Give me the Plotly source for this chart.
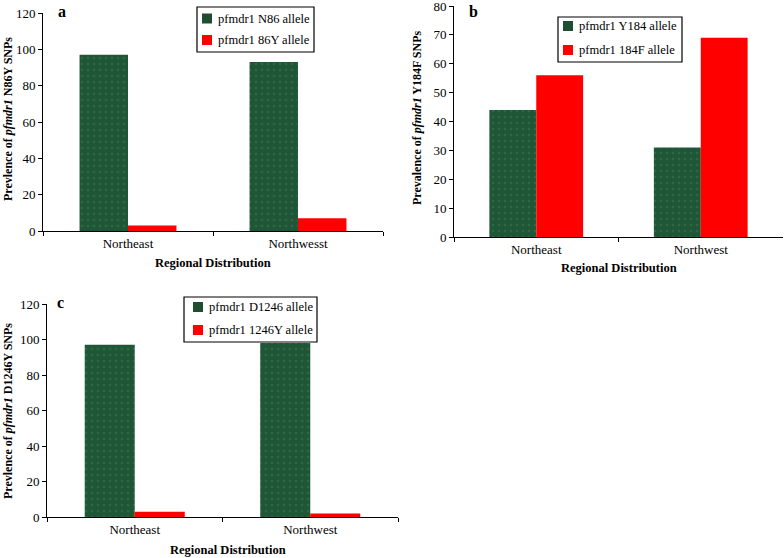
import plotly.graph_objects as go

W, H = 784, 558

regions_a = ["Northeast", "Northwesst"]
regions_b = ["Northeast", "Northwest"]
regions_c = ["Northeast", "Northwest"]

a_wild = [97, 93]
a_mut = [3, 7]
b_wild = [44, 31]
b_mut = [56, 69]
c_wild = [97, 98]
c_mut = [3, 2]

names_a = ["pfmdr1 N86 allele", "pfmdr1 86Y allele"]
names_b = ["pfmdr1 Y184 allele", "pfmdr1 184F allele"]
names_c = ["pfmdr1 D1246 allele", "pfmdr1 1246Y allele"]

ytitles = ["Prevlence of <i>pfmdr1</i> N86Y SNPs",
           "Prevalence of <i>pfmdr1</i> Y184F SNPs",
           "Prevlence of <i>pfmdr1</i> D1246Y SNPs"]

GREEN = "#1f5636"
RED = "#ff0000"
SERIF = "Liberation Serif, Times New Roman, serif"


def px_x(x):
    return x / W


def px_y(y):
    return 1 - y / H


# panel boxes in window pixels: (x0, x1, ytop, ybottom)
boxes = [(43, 383, 13, 231), (454, 783, 6, 237), (47, 398, 304, 517)]

fig = go.Figure()

panels = [
    (regions_a, a_wild, a_mut, names_a, ""),
    (regions_b, b_wild, b_mut, names_b, "2"),
    (regions_c, c_wild, c_mut, names_c, "3"),
]

for cats, wild, mut, names, sfx in panels:
    fig.add_trace(go.Bar(
        x=cats, y=wild, name=names[0], showlegend=False,
        xaxis="x" + sfx, yaxis="y" + sfx,
        marker=dict(color=GREEN, line=dict(width=0),
                    pattern=dict(shape=".", fgcolor="#3a7a55", bgcolor=GREEN,
                                 size=6, solidity=0.15)),
    ))
    fig.add_trace(go.Bar(
        x=cats, y=mut, name=names[1], showlegend=False,
        xaxis="x" + sfx, yaxis="y" + sfx,
        marker=dict(color=RED, line=dict(width=0)),
    ))

yranges = [(0, 120, 20), (0, 80, 10), (0, 120, 20)]
layout = dict(
    width=W, height=H,
    margin=dict(l=0, r=0, t=0, b=0, autoexpand=False),
    paper_bgcolor="white", plot_bgcolor="white",
    barmode="group", bargap=0.43, bargroupgap=0,
    font=dict(family=SERIF, size=13, color="black"),
    showlegend=False,
)

for i, (x0, x1, yt, yb) in enumerate(boxes):
    sfx = "" if i == 0 else str(i + 1)
    r0, r1, dt = yranges[i]
    layout["xaxis" + sfx] = dict(
        domain=[px_x(x0), px_x(x1)], anchor="y" + sfx, automargin=False,
        showline=True, linecolor="black", linewidth=1,
        ticks="outside", ticklen=4, tickcolor="black", tickson="boundaries",
        showgrid=False, ticklabeloverflow="allow",
        tickfont=dict(family=SERIF, size=13, color="black"),
    )
    layout["yaxis" + sfx] = dict(
        domain=[px_y(yb), px_y(yt)], anchor="x" + sfx, automargin=False,
        range=[r0, r1], dtick=dt,
        showline=True, linecolor="black", linewidth=1,
        ticks="outside", ticklen=4, tickcolor="black",
        showgrid=False, zeroline=False, ticklabeloverflow="allow",
        tickfont=dict(family=SERIF, size=13, color="black"),
    )

fig.update_layout(**layout)

shapes = []
annotations = []

# legends drawn as boxes: (x0, x1, ytop, ybottom, symbol_x0, text_x, row_y1, row_y2)
legboxes = [
    (197, 314, 7, 52, 202, 216, 18.5, 40, names_a),
    (558, 682, 17, 62, 563, 577, 26, 50, names_b),
    (184, 317, 297, 342, 193, 207, 307, 330, names_c),
]
for lx0, lx1, lyt, lyb, sx, tx, r1, r2, names in legboxes:
    shapes.append(dict(type="rect", xref="paper", yref="paper",
                       x0=px_x(lx0), x1=px_x(lx1), y0=px_y(lyb), y1=px_y(lyt),
                       line=dict(color="black", width=1.2), fillcolor="white", layer="above"))
    for ry, col, nm in [(r1, "#1e4d30", names[0]), (r2, RED, names[1])]:
        shapes.append(dict(type="rect", xref="paper", yref="paper",
                           x0=px_x(sx), x1=px_x(sx + 10), y0=px_y(ry + 5), y1=px_y(ry - 5),
                           line=dict(width=0), fillcolor=col, layer="above"))
        annotations.append(dict(text=nm, x=px_x(tx), y=px_y(ry), xref="paper", yref="paper",
                                showarrow=False, xanchor="left", yanchor="middle",
                                font=dict(family=SERIF, size=12.5, color="black")))

letters = [("a", 62, 12), ("b", 473, 11), ("c", 60, 302)]
for t, x, y in letters:
    annotations.append(dict(text="<b>%s</b>" % t, x=px_x(x), y=px_y(y),
                            xref="paper", yref="paper", showarrow=False,
                            xanchor="center", yanchor="middle",
                            font=dict(family=SERIF, size=16, color="black")))
ytpos = [(8, 119), (417, 118), (8, 411)]
for t, (x, y) in zip(ytitles, ytpos):
    annotations.append(dict(text="<b>%s</b>" % t, x=px_x(x), y=px_y(y),
                            xref="paper", yref="paper", showarrow=False, textangle=-90,
                            xanchor="center", yanchor="middle",
                            font=dict(family=SERIF, size=12, color="black")))
xtpos = [(213, 263), (619, 268), (228, 550)]
for x, y in xtpos:
    annotations.append(dict(text="<b>Regional Distribution</b>", x=px_x(x), y=px_y(y),
                            xref="paper", yref="paper", showarrow=False,
                            xanchor="center", yanchor="middle",
                            font=dict(family=SERIF, size=12.5, color="black")))
fig.update_layout(shapes=shapes, annotations=annotations)

fig.write_html("out.html", config={"displayModeBar": False},
               post_script="document.body.style.margin='0px';document.body.style.overflow='hidden';")
